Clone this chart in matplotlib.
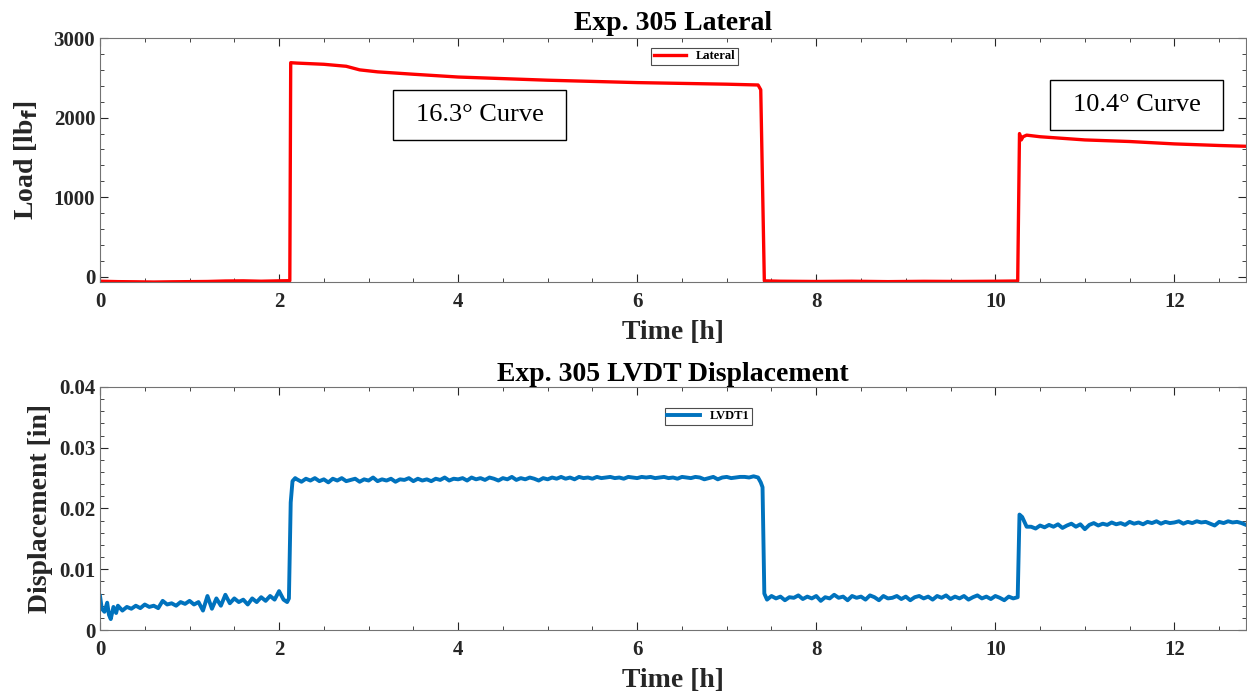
import numpy as np
import matplotlib
matplotlib.use("Agg")
import matplotlib.pyplot as plt
from matplotlib.patches import Rectangle
from matplotlib.ticker import MultipleLocator

plt.rcParams['font.family'] = ['Liberation Serif', 'DejaVu Serif']
plt.rcParams['font.weight'] = 'bold'

# lateral load [lbf] vs time [h]
t_lat = [0, 0.2, 0.4, 0.6, 0.8, 1.0, 1.2, 1.4, 1.6, 1.8, 2.0, 2.12,
         2.13, 2.2, 2.5, 2.75, 2.9, 3.1, 3.5, 4.0, 4.5, 5.0, 5.5, 6.0, 6.5, 7.0, 7.35,
         7.38, 7.42, 7.6, 8.0, 8.4, 8.8, 9.2, 9.6, 10.0, 10.25,
         10.27, 10.29, 10.31, 10.35, 10.5, 11.0, 11.5, 12.0, 12.5, 12.8]
lateral = [-55, -60, -62, -65, -62, -60, -58, -52, -50, -55, -50, -48,
           2690, 2685, 2670, 2645, 2600, 2575, 2545, 2510, 2490, 2470, 2455, 2440, 2430, 2420, 2410,
           2350, -50, -55, -58, -55, -60, -56, -58, -55, -52,
           1800, 1720, 1760, 1780, 1760, 1720, 1700, 1670, 1650, 1640]

# LVDT1 displacement [in x 1e-3]
t_lv1 = [0.0, 0.02, 0.05, 0.08, 0.10, 0.12, 0.15, 0.18, 0.20, 0.25, 0.30, 0.35, 0.40,
         0.45, 0.50, 0.55, 0.60, 0.65, 0.70, 0.75, 0.80, 0.85, 0.90, 0.95, 1.00, 1.05,
         1.10, 1.15, 1.20, 1.25, 1.30, 1.35, 1.40, 1.45, 1.50, 1.55, 1.60, 1.65, 1.70,
         1.75, 1.80, 1.85, 1.90, 1.95, 2.00, 2.05, 2.09, 2.11, 2.13, 2.15, 2.18]
lv1 = [5.6, 3.5, 3.0, 4.5, 2.5, 1.8, 3.8, 2.8, 4.0, 3.2, 3.8, 3.5, 4.0,
       3.6, 4.2, 3.8, 4.0, 3.6, 4.8, 4.2, 4.4, 4.0, 4.6, 4.3, 4.8, 4.2,
       4.6, 3.2, 5.6, 3.5, 5.2, 4.0, 5.8, 4.4, 5.2, 4.6, 5.0, 4.2, 5.2,
       4.6, 5.4, 4.8, 5.6, 5.0, 6.4, 5.0, 4.6, 5.2, 21.0, 24.5, 25.0]
lv2 = [24.8, 24.4, 24.9, 24.6, 25.0, 24.5, 24.8, 24.3, 24.9, 24.6,
       25.0, 24.5, 24.7, 24.9, 24.4, 24.8, 24.6, 25.1, 24.5, 24.8,
       24.6, 24.9, 24.4, 24.8, 24.7, 25.0, 24.5, 24.9, 24.6, 24.8,
       24.5, 24.9, 24.7, 25.1, 24.6, 24.9, 24.8, 25.0, 24.6, 25.1,
       24.8, 25.0, 24.7, 25.1, 24.9, 24.6, 25.0, 24.8, 25.2, 24.7,
       25.0, 24.8, 25.1, 24.9, 24.6, 25.0, 24.8, 25.1, 24.9, 25.2,
       24.9, 25.1, 24.8, 25.2, 25.0, 25.1, 24.9, 25.2, 25.0, 25.1,
       25.2, 25.0, 25.1, 24.9, 25.2, 25.1, 25.0, 25.2, 25.1, 25.2,
       25.0, 25.1, 25.2, 25.0, 25.1, 24.9, 25.2, 25.1, 25.0, 25.2,
       25.1, 24.8, 25.0, 25.2, 24.8, 25.1, 25.2, 25.0, 25.1, 25.2,
       25.2, 25.1, 25.3, 25.1]
t_lv2 = np.linspace(2.2, 7.35, len(lv2))
t_lv3 = [7.38, 7.40, 7.42]
lv3 = [24.3, 23.5, 6.0]
lv4 = [5.0, 5.6, 5.2, 5.5, 4.9, 5.4, 5.3, 5.7, 5.1, 5.5,
       5.2, 5.6, 4.8, 5.4, 5.2, 5.8, 5.3, 5.5, 4.9, 5.6,
       5.3, 5.5, 5.0, 5.7, 5.4, 4.9, 5.6, 5.2, 5.3, 5.6,
       5.1, 5.5, 4.9, 5.4, 5.6, 5.2, 5.5, 5.0, 5.6, 5.3,
       5.7, 5.1, 5.5, 5.2, 5.6, 5.0, 5.4, 5.7, 5.2, 5.5,
       5.1, 5.6, 5.3, 4.9, 5.5, 5.2, 5.4]
t_lv4 = np.linspace(7.45, 10.25, len(lv4))
t_lv5 = [10.27, 10.30, 10.35]
lv5 = [19.0, 18.6, 17.0]
lv6 = [17.0, 16.7, 17.2, 16.9, 17.3, 17.0, 17.4, 16.8, 17.2, 17.5,
       17.0, 17.4, 16.6, 17.3, 17.6, 17.2, 17.5, 17.3, 17.7, 17.4,
       17.6, 17.3, 17.8, 17.5, 17.7, 17.4, 17.8, 17.6, 17.9, 17.5,
       17.8, 17.6, 17.7, 17.9, 17.5, 17.8, 17.6, 17.9, 17.7, 17.8,
       17.5, 17.2, 17.8, 17.6, 17.9, 17.7, 17.8, 17.6, 17.3]
t_lv6 = np.linspace(10.4, 12.8, len(lv6))

t_lvdt = np.concatenate([t_lv1, t_lv2, t_lv3, t_lv4, t_lv5, t_lv6])
lvdt = np.concatenate([lv1, lv2, lv3, lv4, lv5, lv6]) * 1e-3

grey = (0.15, 0.15, 0.15)


def style(ax):
    ax.set_xlim(0, 12.8)
    ax.xaxis.set_major_locator(MultipleLocator(2))
    ax.xaxis.set_minor_locator(MultipleLocator(0.5))
    ax.tick_params(which='both', direction='in', top=True, right=True,
                   colors=grey, labelsize=15)
    ax.tick_params(which='major', length=6)
    ax.tick_params(which='minor', length=3)
    ax.tick_params(axis='x', pad=7)
    for s in ax.spines.values():
        s.set_color((0.45, 0.45, 0.45))
    for lab in ax.get_xticklabels() + ax.get_yticklabels():
        lab.set_fontweight('bold')
    ax.set_xlabel('Time [h]', fontsize=20, fontweight='bold', color=grey, labelpad=6)


fig = plt.figure(figsize=(12.47, 6.95), dpi=100)
ax1 = fig.add_axes([0.0802, 0.5942, 0.9190, 0.3511])
ax2 = fig.add_axes([0.0802, 0.0935, 0.9190, 0.3497])

ax1.plot(t_lat, lateral, color='red', lw=2.4, label='Lateral')
ax1.set_ylim(-65, 3000)
ax1.yaxis.set_major_locator(MultipleLocator(1000))
ax1.yaxis.set_minor_locator(MultipleLocator(200))
style(ax1)
ax1.set_ylabel('Load [lb$_\\mathbf{f}$]', fontsize=20, fontweight='bold', color=grey, labelpad=10)
ax1.set_title('Exp. 305 Lateral', fontsize=20, fontweight='bold', pad=6)
leg = ax1.legend(loc='upper center', bbox_to_anchor=(0.519, 0.985), fontsize=9,
                 handlelength=2.6, borderpad=0.2, fancybox=False, edgecolor='0.3',
                 framealpha=1)
leg.get_frame().set_linewidth(0.8)

for (x0, y0, txt) in [(0.2557, 0.582, '16.3\u00b0 Curve'), (0.829, 0.623, '10.4\u00b0 Curve')]:
    ax1.add_patch(Rectangle((x0, y0), 0.151, 0.205, transform=ax1.transAxes,
                            fill=True, facecolor='white', edgecolor='black', lw=1.0))
    ax1.text(x0 + 0.0755, y0 + 0.1025, txt, transform=ax1.transAxes, fontsize=19,
             fontweight='normal', ha='center', va='center')

ax2.plot(t_lvdt, lvdt, color=(0, 0.447, 0.741), lw=2.8, label='LVDT1')
ax2.set_ylim(0, 0.04)
ax2.yaxis.set_minor_locator(MultipleLocator(0.002))
ax2.set_yticks([0, 0.01, 0.02, 0.03, 0.04])
ax2.set_yticklabels(['0', '0.01', '0.02', '0.03', '0.04'])
style(ax2)
ax2.set_ylabel('Displacement [in]', fontsize=20, fontweight='bold', color=grey, labelpad=4)
ax2.set_title('Exp. 305 LVDT Displacement', fontsize=20, fontweight='bold', pad=3)
leg2 = ax2.legend(loc='upper center', bbox_to_anchor=(0.531, 0.94), fontsize=9,
                  handlelength=2.6, borderpad=0.2, fancybox=False, edgecolor='0.3',
                  framealpha=1)
leg2.get_frame().set_linewidth(0.8)

fig.savefig('out.png', dpi=100)
